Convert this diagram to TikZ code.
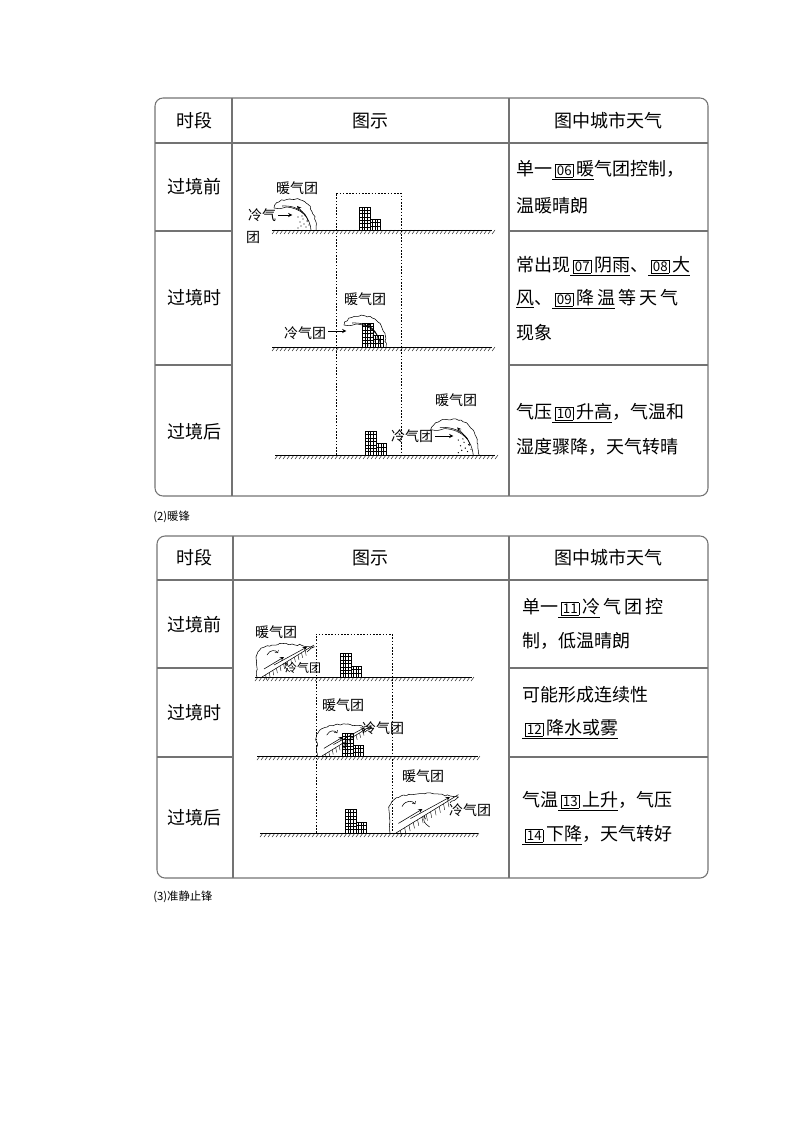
\documentclass[tikz,border=0pt]{standalone}
\usepackage{fontspec}
\newfontfamily\cjk{Noto Sans CJK SC}
\usetikzlibrary{decorations.pathmorphing}
\newcommand{\bxn}[1]{{\setlength{\fboxsep}{0.8pt}\setlength{\fboxrule}{0.4pt}\,\fbox{\fontsize{10}{10}\selectfont #1}\,}}
\newcommand{\ans}[2]{$\underline{\hbox{\bxn{#1}#2}}$}
\newcommand{\groundline}[3]{\draw (#1,#3)--(#2,#3);
  \foreach \t in {#1,...,#2}{\pgfmathparse{mod(\t-#1,4)==0}\ifnum\pgfmathresult=1 \draw[line width=0.3pt] (\t+3,#3)--(\t,#3+4);\fi}}
\newcommand{\bldg}[4]{% x, ground y, tall top, short top
  \draw (#1,#2) rectangle (#1+11,#3); \draw (#1+11,#2) rectangle (#1+21,#4);
  \foreach \k in {1,...,6}{\pgfmathsetmacro\yy{#2-\k*(#2-#3)/7}\draw[line width=0.3pt] (#1,\yy)--(#1+11,\yy);}
  \foreach \k in {1,2}{\pgfmathsetmacro\yy{#2-\k*(#2-#4)/3}\draw[line width=0.3pt] (#1+11,\yy)--(#1+21,\yy);}
  \foreach \k in {1,2,3}{\draw[line width=0.3pt] (#1+\k*2.75,#2)--(#1+\k*2.75,#3);}
  \foreach \k in {1,2,3}{\draw[line width=0.3pt] (#1+11+\k*2.5,#2)--(#1+11+\k*2.5,#4);}}
\newcommand{\coldfront}[3]{\begin{scope}[shift={(#1,#2)},scale=#3]
  \draw[decorate,decoration={random steps,segment length=2pt,amplitude=0.6pt}] (-42,-22)..controls(-38,-32)and(-20,-34)..(-10,-27)..controls(-2,-20)and(0,-8)..(0,0);
  \draw (-42,-22)..controls(-36,-21)..(-30,-23);
  \draw (-30,-23)..controls(-14,-22)and(-6,-12)..(-5,0);
  \draw (-34,-24)..controls(-16,-25)and(-8,-14)..(-8,-8);
  \draw[-stealth] (-10,-14)--(-19,-24);
  \foreach \p in {(-10,-3),(-12,-6),(-9,-9),(-13,-11),(-15,-4),(-11,-15),(-16,-8),(-18,-13),(-14,-14),(-7,-5),(-18,-2)} \fill \p circle (0.6);
\end{scope}}
\newcommand{\warmfront}[3]{\begin{scope}[shift={(#1,#2)},scale=#3]
  \draw[decorate,decoration={random steps,segment length=2pt,amplitude=0.6pt}] (-5,0)--(-6,-20)..controls(-5,-30)and(10,-34)..(30,-33)--(52,-30)--(45,-25);
  \draw (0,0)--(52,-32);
  \foreach \k in {1,...,12}{\draw[line width=0.3pt] (\k*3.6,-\k*2.2)--(\k*3.6+1,-\k*2.2+5);}
  \draw[-stealth] (2,-8)--(22,-20);
  \draw[-stealth] (12,-12)--(45,-30);
  \draw[->] (5,-22)..controls(8,-28)and(14,-27)..(16,-24);
  \draw[->] (28,-5)..controls(24,-8)and(22,-10)..(24,-14);
\end{scope}}
\begin{document}
\begin{tikzpicture}[x=0.75pt,y=-0.75pt,font=\cjk\fontsize{13.5}{16}\selectfont,
  tline/.style={draw=black!55,line width=0.8pt},
  txt/.style={anchor=west,inner sep=0pt},
  lbl/.style={inner sep=0pt,font=\cjk\fontsize{10.5}{12}\selectfont},
  slbl/.style={inner sep=0pt,font=\cjk\fontsize{9}{10}\selectfont},
  dsh/.style={dash pattern=on 1.2pt off 1.2pt,line width=0.4pt}]
\useasboundingbox (0,0) rectangle (794,1123);
% table 1
\draw[tline,rounded corners=6pt] (155,98) rectangle (708,496);
\draw[tline] (232,98)--(232,496) (509,98)--(509,496);
\draw[tline] (155,143)--(708,143) (155,231)--(232,231) (509,231)--(708,231) (155,365)--(232,365) (509,365)--(708,365);
\node (h1) at (194,121) {时段}; \node (h2) at (370,121) {图示}; \node (h3) at (608,121) {图中城市天气};
\node (r1) at (194,187) {过境前}; \node (r2) at (194,298) {过境时}; \node (r3) at (194,432) {过境后};
\node[txt] (t11) at (516,170) {单一\ans{06}{暖}气团控制，};
\node[txt] (t12) at (516,206) {温暖晴朗};
\node[txt] (t21) at (516,266) {常出现\ans{07}{阴雨}、\ans{08}{大}};
\node[txt] (t22) at (516,299) {$\underline{\hbox{风}}$、\ans{09}{降\,温}\,等\,天\,气};
\node[txt] (t23) at (516,333) {现象};
\node[txt] (t31) at (516,413) {气压\ans{10}{升高}，气温和};
\node[txt] (t32) at (516,447) {湿度骤降，天气转晴};
% figure 1
\draw[dsh] (336,455)--(336,193)--(401,193)--(401,455);
\groundline{272}{492}{230}\groundline{272}{492}{347}\groundline{275}{495}{455}
\bldg{359}{230}{207}{219}
\bldg{362}{347}{323}{335}
\bldg{365}{455}{431}{443}
\coldfront{316}{230}{1}
\coldfront{386}{347}{1}
\coldfront{479}{455}{1.15}
\node[lbl] (w1) at (297,188) {暖气团};
\node[lbl] (c1) at (262,215) {冷气}; \node[lbl] (c1b) at (253,237) {团};
\draw[-stealth,line width=0.4pt] (c1.east)+(2,0) -- +(16,0);
\node[lbl] (w2) at (365,299) {暖气团};
\node[lbl] (c2) at (305,333) {冷气团};
\draw[-stealth,line width=0.4pt] (c2.east)+(2,-2) -- +(20,-2);
\node[lbl] (w3) at (456,400) {暖气团};
\node[lbl] (c3) at (412,436) {冷气团};
\draw[-stealth,line width=0.4pt] (c3.east)+(2,0) -- +(20,0);
% caption
\node[anchor=west,inner sep=0pt,font=\cjk\fontsize{8.5}{10}\selectfont] (cap2) at (153,517) {(2)暖锋};
% table 2
\draw[tline,rounded corners=6pt] (157,536) rectangle (708,878);
\draw[tline] (233,536)--(233,878) (509,536)--(509,878);
\draw[tline] (157,580)--(708,580) (157,668)--(233,668) (509,668)--(708,668) (157,757)--(233,757) (509,757)--(708,757);
\node (H1) at (194,558) {时段}; \node (H2) at (370,558) {图示}; \node (H3) at (608,558) {图中城市天气};
\node (R1) at (194,625) {过境前}; \node (R2) at (194,713) {过境时}; \node (R3) at (194,818) {过境后};
\node[txt] (T11) at (522,608) {单一\ans{11}{冷}\,气\,团\,控};
\node[txt] (T12) at (522,641) {制，低温晴朗};
\node[txt] (T21) at (522,695) {可能形成连续性};
\node[txt] (T22) at (522,729) {\ans{12}{降水或雾}};
\node[txt] (T31) at (522,801) {气温\ans{13}{上升}，气压};
\node[txt] (T32) at (522,835) {\ans{14}{下降}，天气转好};
% figure 2
\draw[dsh] (316,833)--(316,634)--(392,634)--(392,833);
\groundline{255}{472}{677}\groundline{257}{478}{756}\groundline{260}{478}{833}
\bldg{340}{677}{653}{666}
\bldg{342}{756}{733}{745}
\bldg{345}{833}{809}{822}
\warmfront{262}{677}{1}
\warmfront{322}{756}{0.95}
\warmfront{396}{833}{1.2}
\node[lbl] (W1) at (276,632) {暖气团};
\node[slbl] (C1) at (303,668) {冷气团};
\node[lbl] (W2) at (343,705) {暖气团};
\node[lbl] (C2) at (383,728) {冷气团};
\node[lbl] (W3) at (423,776) {暖气团};
\node[lbl] (C3) at (470,810) {冷气团};
\node[anchor=west,inner sep=0pt,font=\cjk\fontsize{8.5}{10}\selectfont] (cap3) at (153,897) {(3)准静止锋};
\end{tikzpicture}
\end{document}
